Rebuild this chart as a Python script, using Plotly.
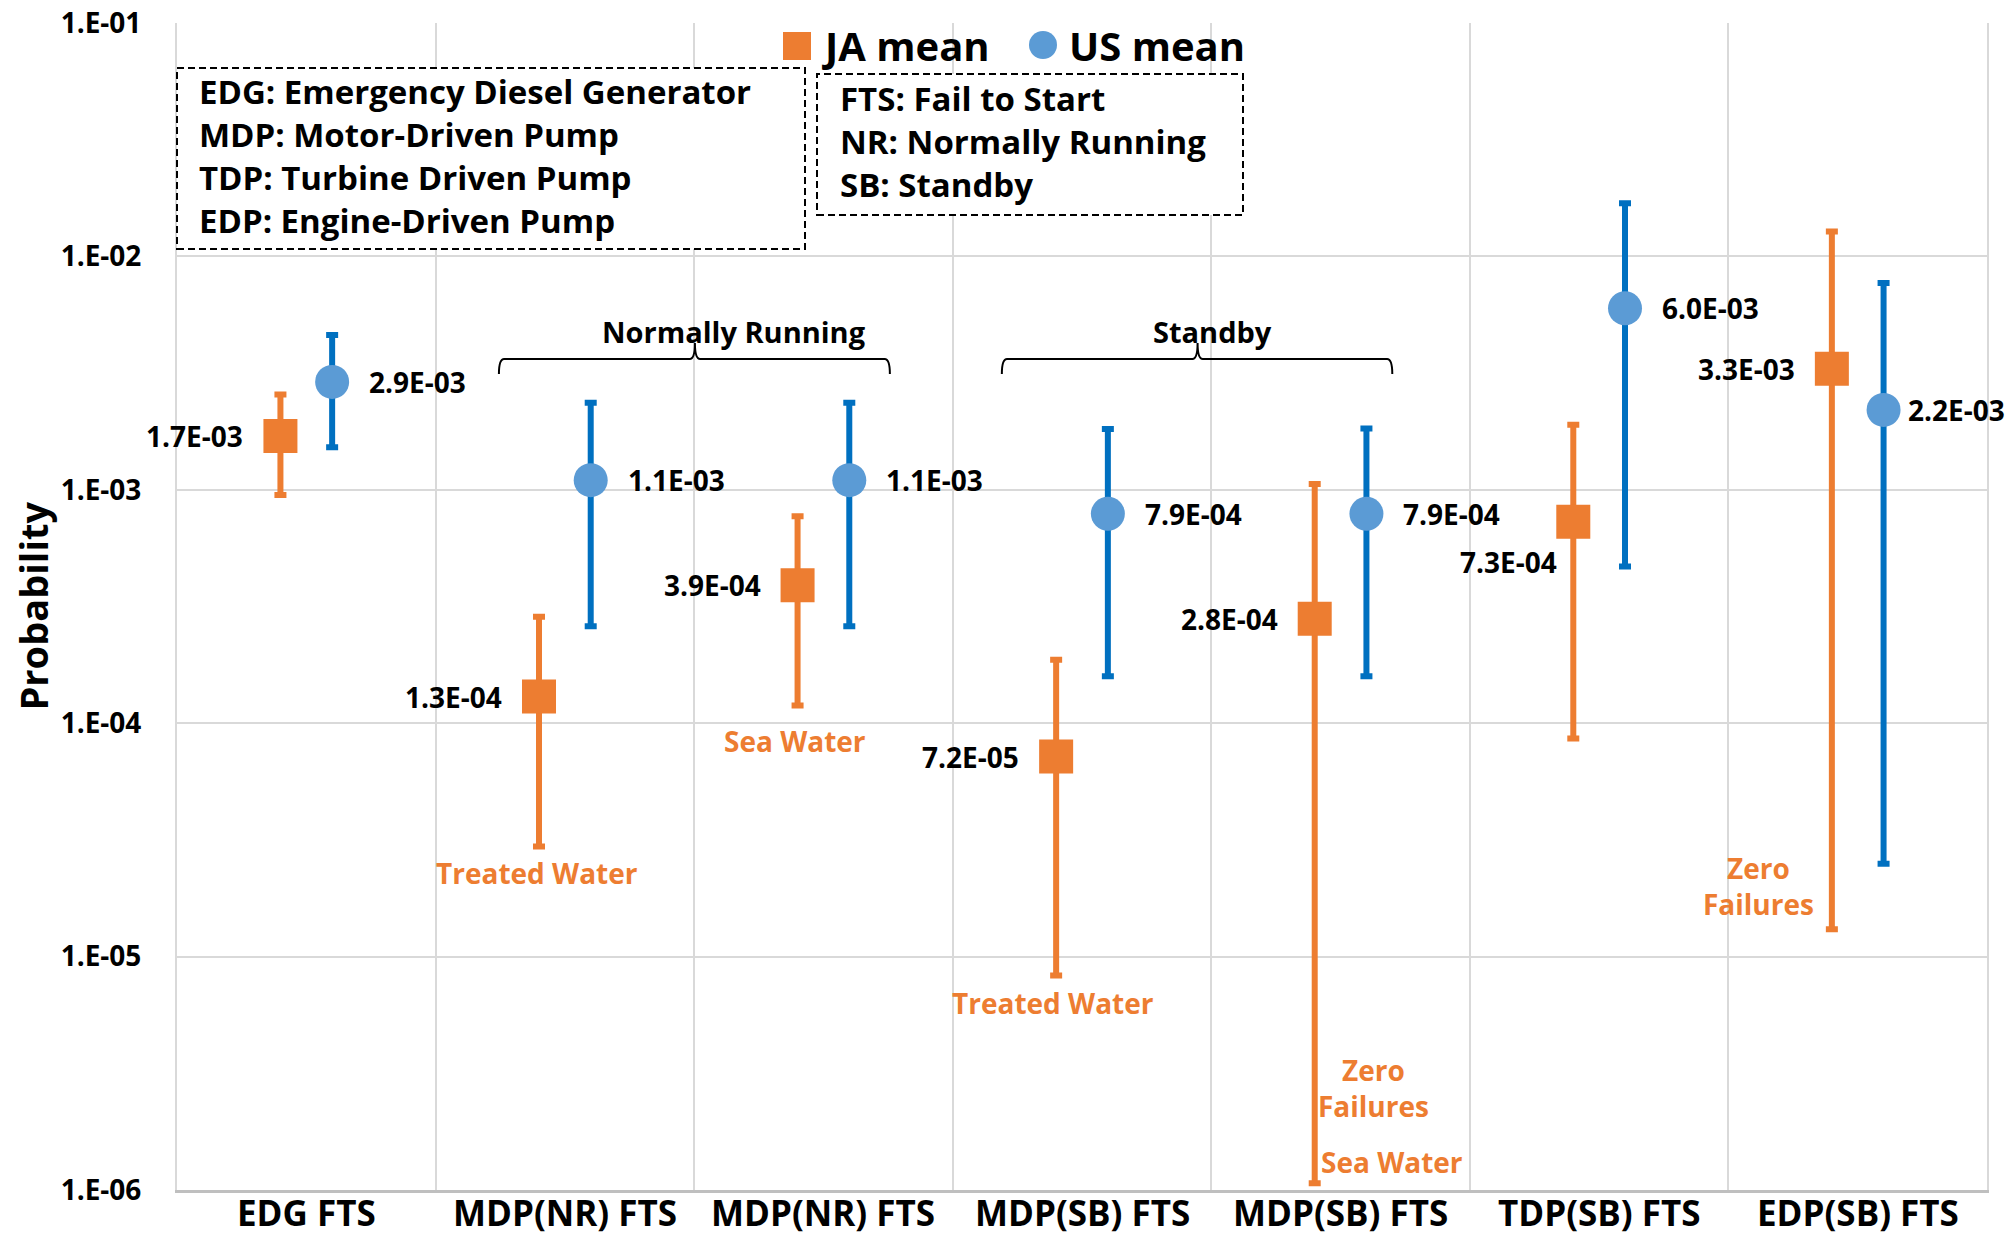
import math
import plotly.graph_objects as go

# ---------------- data ----------------
categories = ["EDG FTS", "MDP(NR) FTS", "MDP(NR) FTS", "MDP(SB) FTS",
              "MDP(SB) FTS", "TDP(SB) FTS", "EDP(SB) FTS"]

ja_mean = [1.7e-3, 1.3e-4, 3.9e-4, 7.2e-5, 2.8e-4, 7.3e-4, 3.3e-3]
ja_upper = [2.56e-3, 2.86e-4, 7.7e-4, 1.87e-4, 1.06e-3, 1.9e-3, 1.28e-2]
ja_lower = [9.5e-4, 2.96e-5, 1.19e-4, 8.3e-6, 1.07e-6, 8.6e-5, 1.31e-5]

us_mean = [2.9e-3, 1.1e-3, 1.1e-3, 7.9e-4, 7.9e-4, 6.0e-3, 2.2e-3]
us_upper = [4.6e-3, 2.36e-3, 2.36e-3, 1.82e-3, 1.83e-3, 1.69e-2, 7.7e-3]
us_lower = [1.52e-3, 2.6e-4, 2.6e-4, 1.59e-4, 1.59e-4, 4.69e-4, 2.5e-5]

y_tickvals = [1e-6, 1e-5, 1e-4, 1e-3, 1e-2, 1e-1]
y_ticktext = ["1.E-06", "1.E-05", "1.E-04", "1.E-03", "1.E-02", "1.E-01"]

abbrev_left = ["EDG: Emergency Diesel Generator", "MDP: Motor-Driven Pump",
               "TDP: Turbine Driven Pump", "EDP: Engine-Driven Pump"]
abbrev_right = ["FTS: Fail to Start", "NR: Normally Running", "SB: Standby"]

# group brackets: label, start, end, tip, label centre (category units)
groups = [("Normally Running", 0.745, 2.257, 1.503, 1.654),
          ("Standby", 2.69, 4.20, 3.447, 3.503)]

# orange notes: text, category index, x shift (px), y pixel of centre
notes = [("Treated Water", 1, -2, 873),
         ("Sea Water", 2, -3, 741),
         ("Treated Water", 3, -3, 1003),
         ("Zero<br>Failures", 4, 59, 1088),
         ("Sea Water", 4, 77, 1162),
         ("Zero<br>Failures", 6, -73, 886)]

# ---------------- styling ----------------
W, H = 2009, 1235
PL, PT, PR, PB = 177, 23, 1987, 1190       # plot area in page pixels
ML, MT, MR, MB = PL, PT, W - PR, H - PB
PW, PH = PR - PL, PB - PT
ORANGE, BLUE, DBLUE = "#ED7D31", "#5B9BD5", "#0070C0"
GRID = "#d9d9d9"
FONT = "Open Sans"
OFF = 0.1


def px(x):
    return (x - PL) / PW


def py(y):
    return (PB - y) / PH


ja_x = [i - OFF for i in range(len(categories))]
us_x = [i + OFF for i in range(len(categories))]

fig = go.Figure()
fig.add_trace(go.Scatter(
    x=ja_x, y=ja_mean, mode="markers", name="JA mean",
    marker=dict(symbol="square", size=34, color=ORANGE, line=dict(width=0)),
    error_y=dict(type="data", symmetric=False,
                 array=[u - m for u, m in zip(ja_upper, ja_mean)],
                 arrayminus=[m - l for m, l in zip(ja_mean, ja_lower)],
                 color=ORANGE, thickness=6, width=6),
    showlegend=False, cliponaxis=False))
fig.add_trace(go.Scatter(
    x=us_x, y=us_mean, mode="markers", name="US mean",
    marker=dict(symbol="circle", size=34, color=BLUE, line=dict(width=0)),
    error_y=dict(type="data", symmetric=False,
                 array=[u - m for u, m in zip(us_upper, us_mean)],
                 arrayminus=[m - l for m, l in zip(us_mean, us_lower)],
                 color=DBLUE, thickness=6, width=6),
    showlegend=False, cliponaxis=False))

ann = []
lab_font = dict(family=FONT, size=28, color="black", weight="bold")
# data labels
for i, (xv, m) in enumerate(zip(ja_x, ja_mean)):
    xs, ys = -35, 0
    if i == 5:
        xs, ys = -14, -40
    ann.append(dict(x=xv, y=math.log10(m), xref="x", yref="y", text=f"{m:.1E}",
                    showarrow=False, xanchor="right", yanchor="middle",
                    xshift=xs, yshift=ys, font=lab_font))
for i, (xv, m) in enumerate(zip(us_x, us_mean)):
    xs = 22 if i == 6 else 35
    ann.append(dict(x=xv, y=math.log10(m), xref="x", yref="y", text=f"{m:.1E}",
                    showarrow=False, xanchor="left", yanchor="middle",
                    xshift=xs, font=lab_font))
# orange notes
for txt, ci, xs, ypix in notes:
    ann.append(dict(x=ja_x[ci], y=py(ypix), xref="x", yref="paper", text=txt,
                    showarrow=False, xanchor="center", yanchor="middle", xshift=xs,
                    font=dict(family=FONT, size=28, color=ORANGE, weight="bold")))
# category labels under the axis
for i, c in enumerate(categories):
    ann.append(dict(x=i, y=py(1212), xref="x", yref="paper", text=c,
                    showarrow=False, xanchor="center", yanchor="middle",
                    font=dict(family=FONT, size=35, color="black", weight="bold")))
# group labels and brackets
shapes = []
for name, x0, x1, xm, xt in groups:
    ann.append(dict(x=xt, y=py(331), xref="x", yref="paper", text=name,
                    showarrow=False, xanchor="center", yanchor="middle",
                    font=dict(family=FONT, size=29, color="black", weight="bold")))
    yl, yb, yt = py(359), py(374), py(343)
    dx = 0.02
    path = (f"M {x0},{yb} Q {x0},{yl} {x0+dx},{yl} L {xm-dx},{yl} "
            f"Q {xm},{yl} {xm},{yt} Q {xm},{yl} {xm+dx},{yl} "
            f"L {x1-dx},{yl} Q {x1},{yl} {x1},{yb}")
    shapes.append(dict(type="path", path=path, xref="x", yref="paper",
                       line=dict(color="black", width=2)))

# abbreviation boxes
box_font = dict(family=FONT, size=33, color="black", weight="bold")
shapes.append(dict(type="rect", xref="paper", yref="paper",
                   x0=px(177), x1=px(805), y0=py(249), y1=py(68),
                   line=dict(color="black", width=2, dash="7px,4px"),
                   fillcolor="white"))
ann.append(dict(x=px(197), y=py(156), xref="paper", yref="paper",
                text="<br>".join(abbrev_left), align="left",
                showarrow=False, xanchor="left", yanchor="middle", font=box_font))
shapes.append(dict(type="rect", xref="paper", yref="paper",
                   x0=px(817), x1=px(1243), y0=py(215), y1=py(74),
                   line=dict(color="black", width=2, dash="7px,4px"),
                   fillcolor="white"))
ann.append(dict(x=px(838), y=py(142), xref="paper", yref="paper",
                text="<br>".join(abbrev_right), align="left",
                showarrow=False, xanchor="left", yanchor="middle", font=box_font))

# legend
leg_font = dict(family=FONT, size=40, color="black", weight="bold")
shapes.append(dict(type="rect", xref="paper", yref="paper",
                   x0=px(783), x1=px(811), y0=py(60), y1=py(32),
                   fillcolor=ORANGE, line=dict(width=0)))
ann.append(dict(x=px(820), y=py(45.5), xref="paper", yref="paper", text="JA mean",
                showarrow=False, xanchor="left", yanchor="middle", font=leg_font))
shapes.append(dict(type="circle", xref="paper", yref="paper",
                   x0=px(1029), x1=px(1057), y0=py(59), y1=py(31),
                   fillcolor=BLUE, line=dict(width=0)))
ann.append(dict(x=px(1067), y=py(45.5), xref="paper", yref="paper", text="US mean",
                showarrow=False, xanchor="left", yanchor="middle", font=leg_font))

# y title
ann.append(dict(x=px(32), y=0.5, xref="paper", yref="paper", text="Probability",
                textangle=-90, showarrow=False, xanchor="center", yanchor="middle",
                font=dict(family=FONT, size=38, color="black", weight="bold")))

fig.update_layout(
    width=W, height=H,
    margin=dict(l=ML, r=MR, t=MT, b=MB, pad=0, autoexpand=False),
    paper_bgcolor="white", plot_bgcolor="white",
    showlegend=False,
    annotations=ann, shapes=shapes,
    xaxis=dict(range=[-0.5, len(categories) - 0.5], automargin=False,
               tickmode="array", tickvals=list(range(len(categories))),
               showticklabels=False, showgrid=False, zeroline=False,
               showline=True, linecolor="#bfbfbf", linewidth=3, ticks="",
               minor=dict(tickmode="array",
                          tickvals=[i + 0.5 for i in range(-1, len(categories))],
                          showgrid=True, gridcolor=GRID, gridwidth=2, ticks="")),
    yaxis=dict(type="log", range=[-6, -1], tickmode="array", automargin=False,
               tickvals=y_tickvals, ticktext=y_ticktext,
               showgrid=True, gridcolor=GRID, gridwidth=2, zeroline=False,
               showline=True, linecolor=GRID, linewidth=2, mirror=True, ticks="",
               ticklabelstandoff=28, ticklabeloverflow="allow",
               tickfont=dict(family=FONT, size=28, color="black", weight="bold")),
)

fig.write_html("out.html", config={"displayModeBar": False},
               post_script="document.body.style.margin='0';"
                           "document.body.style.overflow='hidden';")
